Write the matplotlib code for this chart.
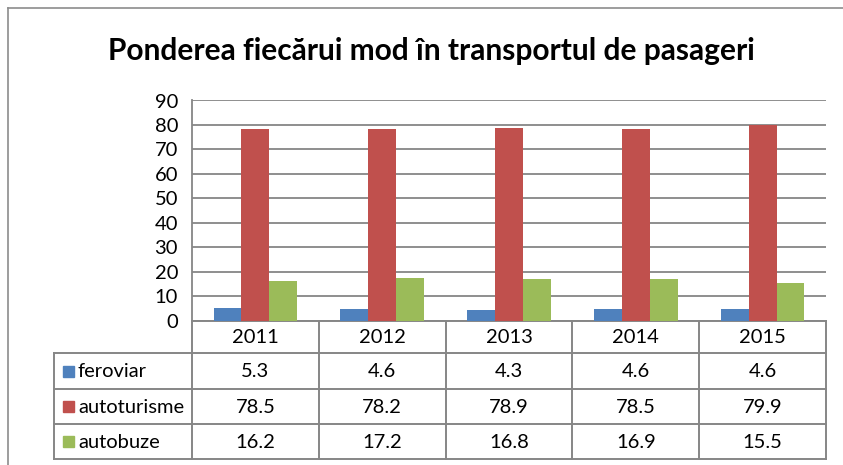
import matplotlib
matplotlib.use("Agg")
import numpy as np
import matplotlib.pyplot as plt
from matplotlib.lines import Line2D
from matplotlib.patches import Rectangle

# ------------------------------------------------------------
# DATA
# ------------------------------------------------------------

years = ["2011", "2012", "2013", "2014", "2015"]
series_names = ["feroviar", "autoturisme", "autobuze"]

feroviar = [5.3, 4.6, 4.3, 4.6, 4.6]
autoturisme = [78.5, 78.2, 78.9, 78.5, 79.9]
autobuze = [16.2, 17.2, 16.8, 16.9, 15.5]

series_values = [feroviar, autoturisme, autobuze]
colors = ["#4F81BD", "#C0504D", "#9BBB59"]

title = "Ponderea fiecărui mod în transportul de pasageri"

y_ticks = list(range(0, 100, 10))

# ------------------------------------------------------------
# LAYOUT (pixels)
# ------------------------------------------------------------

W, H = 843, 465
PLOT_L, PLOT_R = 192, 826
PLOT_T, PLOT_B = 100.5, 320.5
TABLE_L = 54
ROW_LINES = [320.5, 353, 388.5, 423.5, 458.5]

GRID = "#868686"
FONT = "Lato"
FS = 14.5

plt.rcParams["font.family"] = [FONT, "DejaVu Sans"]

fig = plt.figure(figsize=(W / 100, H / 100), dpi=100)

# background overlay in pixel coordinates
bg = fig.add_axes([0, 0, 1, 1])
bg.set_xlim(0, W)
bg.set_ylim(H, 0)
bg.axis("off")

# outer chart border
bg.add_line(Line2D([8, 8], [8, H + 5], color="#8c8c8c", lw=1.2))
bg.add_line(Line2D([8, W + 5], [8, 8], color="#8c8c8c", lw=1.2))

bg.text(431, 51, title, ha="center", va="center",
        fontsize=21.5, fontweight="bold", color="black")

# ------------------------------------------------------------
# BARS
# ------------------------------------------------------------

ax = fig.add_axes([PLOT_L / W, 1 - PLOT_B / H,
                   (PLOT_R - PLOT_L) / W, (PLOT_B - PLOT_T) / H])
ax.set_facecolor("none")

x = np.arange(len(years))
bw = 0.22

for i, (vals, c) in enumerate(zip(series_values, colors)):
    ax.bar(x + (i - 1) * bw, vals, width=bw, color=c, zorder=3)

ax.set_xlim(-0.5, len(years) - 0.5)
ax.set_ylim(0, 90)
ax.set_yticks(y_ticks)
ax.set_yticklabels([str(t) for t in y_ticks], fontsize=FS)
ax.set_xticks([])
ax.tick_params(axis="y", length=0, pad=10)
ax.yaxis.grid(True, color=GRID, lw=1.3)
ax.set_axisbelow(True)
for side in ["top", "right", "bottom"]:
    ax.spines[side].set_visible(False)
ax.spines["left"].set_color(GRID)
ax.spines["left"].set_linewidth(1.3)

# ------------------------------------------------------------
# DATA TABLE
# ------------------------------------------------------------

col_w = (PLOT_R - PLOT_L) / len(years)
col_edges = [PLOT_L + k * col_w for k in range(len(years) + 1)]
lw_t = 1.4

# horizontal lines
bg.add_line(Line2D([PLOT_L, PLOT_R], [ROW_LINES[0]] * 2, color=GRID, lw=lw_t))
for yl in ROW_LINES[1:]:
    bg.add_line(Line2D([TABLE_L, PLOT_R], [yl] * 2, color=GRID, lw=lw_t))

# vertical lines
for xe in col_edges:
    bg.add_line(Line2D([xe, xe], [ROW_LINES[0], ROW_LINES[-1]], color=GRID, lw=lw_t))
bg.add_line(Line2D([TABLE_L, TABLE_L], [ROW_LINES[1], ROW_LINES[-1]], color=GRID, lw=lw_t))

# header
for k, yr in enumerate(years):
    bg.text(col_edges[k] + col_w / 2, (ROW_LINES[0] + ROW_LINES[1]) / 2 + 1, yr,
            ha="center", va="center", fontsize=FS)

# rows
for r, (name, vals, c) in enumerate(zip(series_names, series_values, colors)):
    yc = (ROW_LINES[r + 1] + ROW_LINES[r + 2]) / 2 + 1
    bg.add_patch(Rectangle((63, yc - 6), 11, 11, color=c))
    bg.text(78, yc, name, ha="left", va="center", fontsize=FS)
    for k, v in enumerate(vals):
        bg.text(col_edges[k] + col_w / 2, yc, f"{v:.1f}",
                ha="center", va="center", fontsize=FS)

fig.savefig("out.png", dpi=100)
